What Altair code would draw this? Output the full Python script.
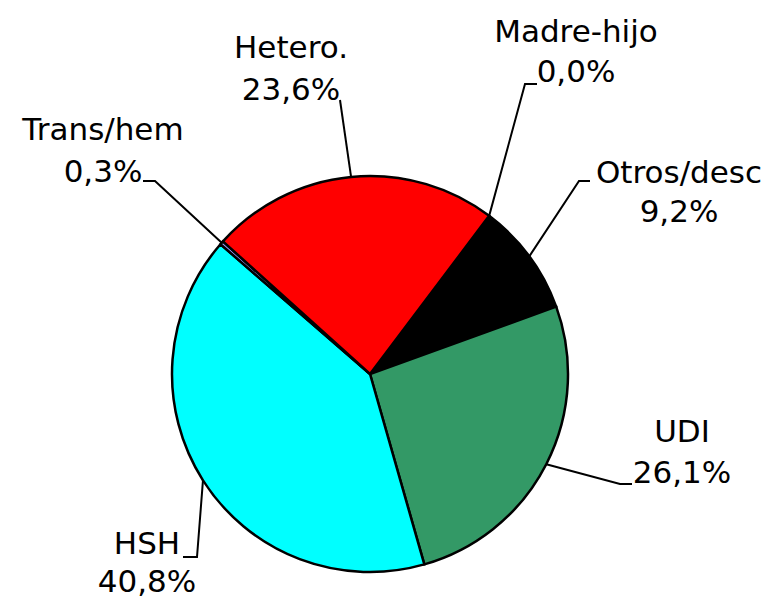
import numpy as np
import pandas as pd
import altair as alt

# ---- data ----
categories = ["Madre-hijo", "Otros/desc", "UDI", "HSH", "Trans/hem", "Hetero."]
values = [0.0, 9.2, 26.1, 40.8, 0.3, 23.6]
colors = ["#FFFF99", "#000000", "#339966", "#00FFFF", "#9999FF", "#FF0000"]

# ---- layout (chart pixel coords) ----
W, H = 763, 590
CX, CY, R = 362, 366, 198
START_DEG = 37.0
FONT = "DejaVu Sans"
FS = 31
# label anchor: (center x, baseline of first line, baseline of second line)
label_pos = {
    "Madre-hijo": (568, 34, 74),
    "Otros/desc": (671, 175, 214),
    "UDI": (674, 434, 475),
    "HSH": (139, 546, 584),
    "Trans/hem": (95, 132, 174),
    "Hetero.": (283, 50, 92),
}
# leader line extra vertices after the point on the circle
leader_pts = {
    "Madre-hijo": [(517, 76), (529, 76)],
    "Otros/desc": [(571, 173), (582, 173)],
    "UDI": [(612, 476), (624, 476)],
    "HSH": [(189, 549), (175, 549)],
    "Trans/hem": [(147, 173), (135, 173)],
    "Hetero.": [(332, 92)],
}

df = pd.DataFrame({"cat": categories, "value": values, "idx": range(len(values))})

start = np.deg2rad(START_DEG)
vals = np.array(values)
cum = np.concatenate([[0], np.cumsum(vals)[:-1]])
mid = start + (cum + vals / 2) / vals.sum() * 2 * np.pi

line_rows = []
text_rows = []
for i, c in enumerate(categories):
    px = CX + R * np.sin(mid[i])
    py = CY - R * np.cos(mid[i])
    pts = [(px, py)] + leader_pts[c]
    for k, (x, y) in enumerate(pts):
        line_rows.append({"cat": c, "k": k, "x": x, "y": y})
    lx, ly1, ly2 = label_pos[c]
    pct = f"{values[i]:.1f}".replace(".", ",") + "%"
    text_rows.append({"cat": c, "x": lx, "y": ly1, "t": c})
    text_rows.append({"cat": c, "x": lx, "y": ly2, "t": pct})

lines_df = pd.DataFrame(line_rows)
text_df = pd.DataFrame(text_rows)

xs = alt.Scale(domain=[0, W], range=[0, W], nice=False, zero=False)
ys = alt.Scale(domain=[0, H], range=[0, H], nice=False, zero=False)

pie = alt.Chart(df).mark_arc(outerRadius=R, stroke="black", strokeWidth=2.5).encode(
    theta=alt.Theta("value:Q", stack=True,
                    scale=alt.Scale(range=[start, start + 2 * np.pi])),
    color=alt.Color("cat:N", scale=alt.Scale(domain=categories, range=colors), legend=None),
    order=alt.Order("idx:Q"),
    x=alt.value(CX),
    y=alt.value(CY),
)

leaders = alt.Chart(lines_df).mark_line(color="black", strokeWidth=2).encode(
    x=alt.X("x:Q", scale=xs, axis=None),
    y=alt.Y("y:Q", scale=ys, axis=None),
    detail="cat:N",
    order="k:Q",
)

labels = alt.Chart(text_df).mark_text(
    font=FONT, fontSize=FS, align="center", baseline="alphabetic", color="black"
).encode(
    x=alt.X("x:Q", scale=xs, axis=None),
    y=alt.Y("y:Q", scale=ys, axis=None),
    text="t:N",
)

chart = alt.layer(pie, leaders, labels).properties(
    width=W, height=H, autosize=alt.AutoSizeParams(type="none"), padding=0
).configure_view(stroke=None).resolve_scale(color="independent")

chart.save("out.html", embed_options={"renderer": "svg", "actions": False})
